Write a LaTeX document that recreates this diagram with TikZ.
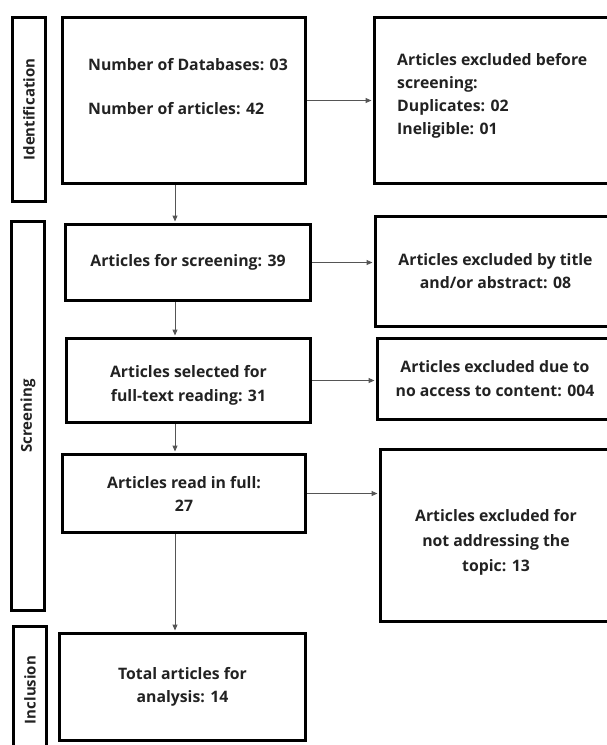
\documentclass[tikz,border=0pt]{standalone}
\usepackage{fontspec}
\setmainfont{Open Sans}
\usetikzlibrary{arrows.meta}
\definecolor{ink}{RGB}{34,34,34}
\definecolor{wire}{RGB}{85,85,85}
\tikzset{
  box/.style={draw=black, line width=3pt, inner sep=0pt, align=center, text=ink,
    font=\bfseries\fontsize{15.8}{23}\selectfont},
  note/.style={inner sep=0pt, align=left, text=ink, anchor=west,
    font=\bfseries\fontsize{15.8}{23.2}\selectfont},
  phase/.style={draw=black, line width=3pt, inner sep=0pt, rotate=90,
    minimum height=33pt, text=ink, font=\bfseries\fontsize{15}{17}\selectfont},
  flow/.style={draw=wire, line width=1pt, shorten >=1.5pt,
    -{Triangle[length=6pt,width=5pt]}}
}
\newcommand{\boxat}[5]{\node[box, minimum width=#3pt, minimum height=#4pt] (#1) at (#2) {#5};}
% lowered text block, #1 shift, #2 leading, #3 lines
\newcommand{\lowered}[3]{\raisebox{#1}[\height][\depth]{\parbox{225pt}{\centering\fontsize{15.8}{#2}\selectfont #3}}}

\begin{document}
\begin{tikzpicture}[x=1pt, y=-1pt]
\useasboundingbox (0,0) rectangle (606,745);
% phases
\node[phase, minimum width=184pt] (idf) at (29,109.5) {Identification};
\node[phase, minimum width=389pt] (scg) at (28,416) {Screening};
\node[phase, minimum width=127pt] (inc) at (30,690) {Inclusion};
% main column
\boxat{db}{184,100.5}{243}{166}{}
\node[note] (dbtext) at (88,86.5) {Number of Databases: 03\\[20pt]Number of articles: 42};
\boxat{scr}{188,262.5}{245}{76}{Articles for screening: 39}
\boxat{sel}{188.5,380.5}{244}{84}{\lowered{-5pt}{24pt}{Articles selected for\\full-text reading: 31}}
\boxat{full}{184,493.5}{243}{78}{Articles read in full:\\27}
\boxat{tot}{182.5,687}{246}{107}{Total articles for\\analysis: 14}
% excluded column
\boxat{exb}{495,100.5}{241}{166}{}
\node[note] (exbtext) at (397,96) {Articles excluded before\\screening:\\Duplicates: 02\\Ineligible: 01};
\boxat{ext}{495.5,271.5}{240}{110}{Articles excluded by title\\and/or abstract: 08}
\boxat{exa}{495,379}{235}{81}{\lowered{0pt}{24pt}{Articles excluded due to\\no access to content: 004}}
\boxat{exn}{496,535.5}{231}{172}{\lowered{-7pt}{25pt}{Articles excluded for\\not addressing the\\topic: 13}}
% arrows
\coordinate (col) at (175,0);
\draw[flow] (db.south -| col) -- (scr.north -| col);
\draw[flow] (scr.south -| col) -- (sel.north -| col);
\draw[flow] (sel.south -| col) -- (full.north -| col);
\draw[flow] (full.south -| col) -- (tot.north -| col);
\draw[flow] (db.east) -- (db.east -| exb.west);
\draw[flow] (scr.east) -- (scr.east -| ext.west);
\draw[flow] (sel.east) -- (sel.east -| exa.west);
\draw[flow] (full.east) -- (full.east -| exn.west);
\end{tikzpicture}
\end{document}
